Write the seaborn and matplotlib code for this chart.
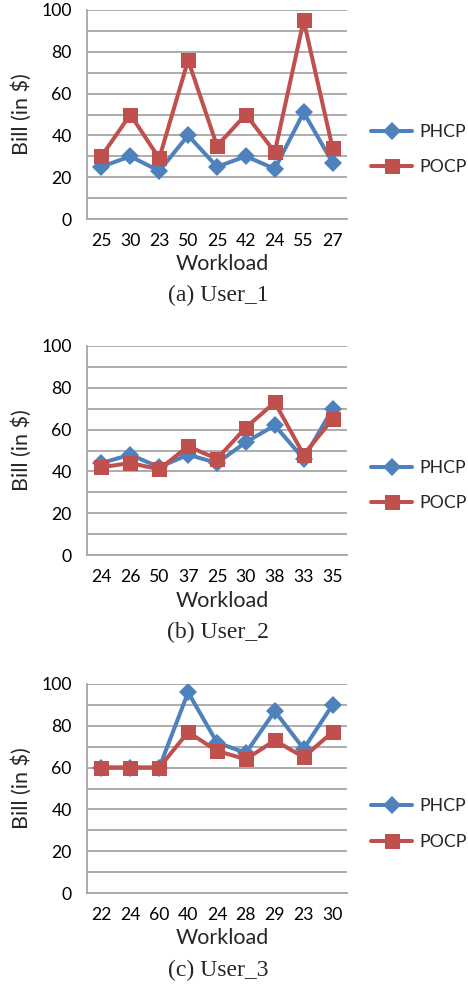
import matplotlib
matplotlib.use("Agg")
import matplotlib.pyplot as plt
import seaborn as sns
import pandas as pd
from matplotlib.lines import Line2D
from matplotlib.ticker import MultipleLocator

# ---- data ----
workload_a = ["25", "30", "23", "50", "25", "42", "24", "55", "27"]
phcp_a = [25, 30, 23, 40, 25, 30, 24, 51, 27]
pocp_a = [30, 50, 29, 76, 35, 50, 32, 95, 34]

workload_b = ["24", "26", "50", "37", "25", "30", "38", "33", "35"]
phcp_b = [44, 48, 42, 48, 44, 54, 62, 46, 70]
pocp_b = [42, 44, 41, 52, 46, 61, 73, 48, 65]

workload_c = ["22", "24", "60", "40", "24", "28", "29", "23", "30"]
phcp_c = [60, 60, 60, 96, 72, 67, 87, 69, 90]
pocp_c = [60, 60, 60, 77, 68, 64, 73, 65, 77]

captions = ["(a) User_1", "(b) User_2", "(c) User_3"]
series_names = ["PHCP", "POCP"]

BLUE = "#4F81BD"
RED = "#C0504D"
GRID = "#A6A6A6"

sns.set_theme(style="white")
plt.rcParams["font.family"] = ["Lato", "DejaVu Sans"]

W, H = 468, 985
fig = plt.figure(figsize=(W / 100, H / 100), dpi=100)

panels = [
    (workload_a, phcp_a, pocp_a, 10, 219, 132, 167, 240, 264, 295),
    (workload_b, phcp_b, pocp_b, 346, 555, 468, 503, 576, 601, 632),
    (workload_c, phcp_c, pocp_c, 684, 893, 806, 842, 914, 938, 970),
]

tick_fs = 12.7
lab_fs = 15.5
D_MS = 9.0
S_MS = 10.8
LW = 2.9

for i, (wl, ph, po, top, bot, leg1, leg2, ty, wy, cy) in enumerate(panels):
    left, right = 87, 347
    ax = fig.add_axes([left / W, (H - bot) / H, (right - left) / W, (bot - top) / H])
    n = len(wl)
    df = pd.DataFrame({
        "pos": list(range(n)) * 2,
        "value": ph + po,
        "series": [series_names[0]] * n + [series_names[1]] * n,
    })
    sns.lineplot(data=df, x="pos", y="value", hue="series", style="series",
                 palette={"PHCP": BLUE, "POCP": RED},
                 markers={"PHCP": "D", "POCP": "s"}, dashes=False,
                 linewidth=LW, ax=ax, legend=False, zorder=3)
    for line, ms in zip(ax.lines, [D_MS, S_MS]):
        line.set_markersize(ms)
        line.set_markeredgewidth(0)
    ax.set_xlim(-0.5, n - 0.5)
    ax.set_ylim(0, 100)
    ax.yaxis.set_major_locator(MultipleLocator(20))
    ax.yaxis.set_minor_locator(MultipleLocator(10))
    ax.grid(True, axis="y", which="both", color=GRID, linewidth=1.3, zorder=0)
    ax.set_axisbelow(True)
    ax.set_xticks(range(n))
    ax.set_xticklabels(wl)
    ax.set_xticks([k - 0.5 for k in range(n + 1)], minor=True)
    ax.tick_params(axis="x", which="major", length=0, pad=10, labelsize=tick_fs, colors="#000000")
    ax.tick_params(axis="x", which="minor", length=5, width=1.3, color=GRID, direction="out")
    ax.tick_params(axis="y", which="both", length=5, width=1.3, color=GRID, direction="out", labelsize=tick_fs, pad=6)
    ax.tick_params(axis="y", which="major", labelcolor="#000000")
    for s in ["top", "right"]:
        ax.spines[s].set_visible(False)
    for s in ["left", "bottom"]:
        ax.spines[s].set_color(GRID)
        ax.spines[s].set_linewidth(1.3)
    ax.set_xlabel("")
    ax.set_ylabel("")
    fig.text(22 / W, 1 - ((top + bot) / 2) / H, "Bill (in $)", rotation=90,
             ha="center", va="center", fontsize=lab_fs)
    fig.text(222 / W, 1 - wy / H, "Workload", ha="center", va="center", fontsize=lab_fs)
    fig.text(218 / W, 1 - cy / H, captions[i], ha="center", va="center",
             fontsize=17, family="Liberation Serif")
    handles = [
        Line2D([], [], color=BLUE, marker="D", markersize=D_MS, linewidth=LW, markeredgewidth=0),
        Line2D([], [], color=RED, marker="s", markersize=S_MS, linewidth=LW, markeredgewidth=0),
    ]
    for h, yy, name in zip(handles, [leg1, leg2], series_names):
        fig.legend([h], [name], loc="center left", bbox_to_anchor=(371 / W, 1 - yy / H),
                   frameon=False, handlelength=2.33, handletextpad=0.4,
                   fontsize=tick_fs, borderpad=0, borderaxespad=0)

fig.savefig("out.png", dpi=100)
